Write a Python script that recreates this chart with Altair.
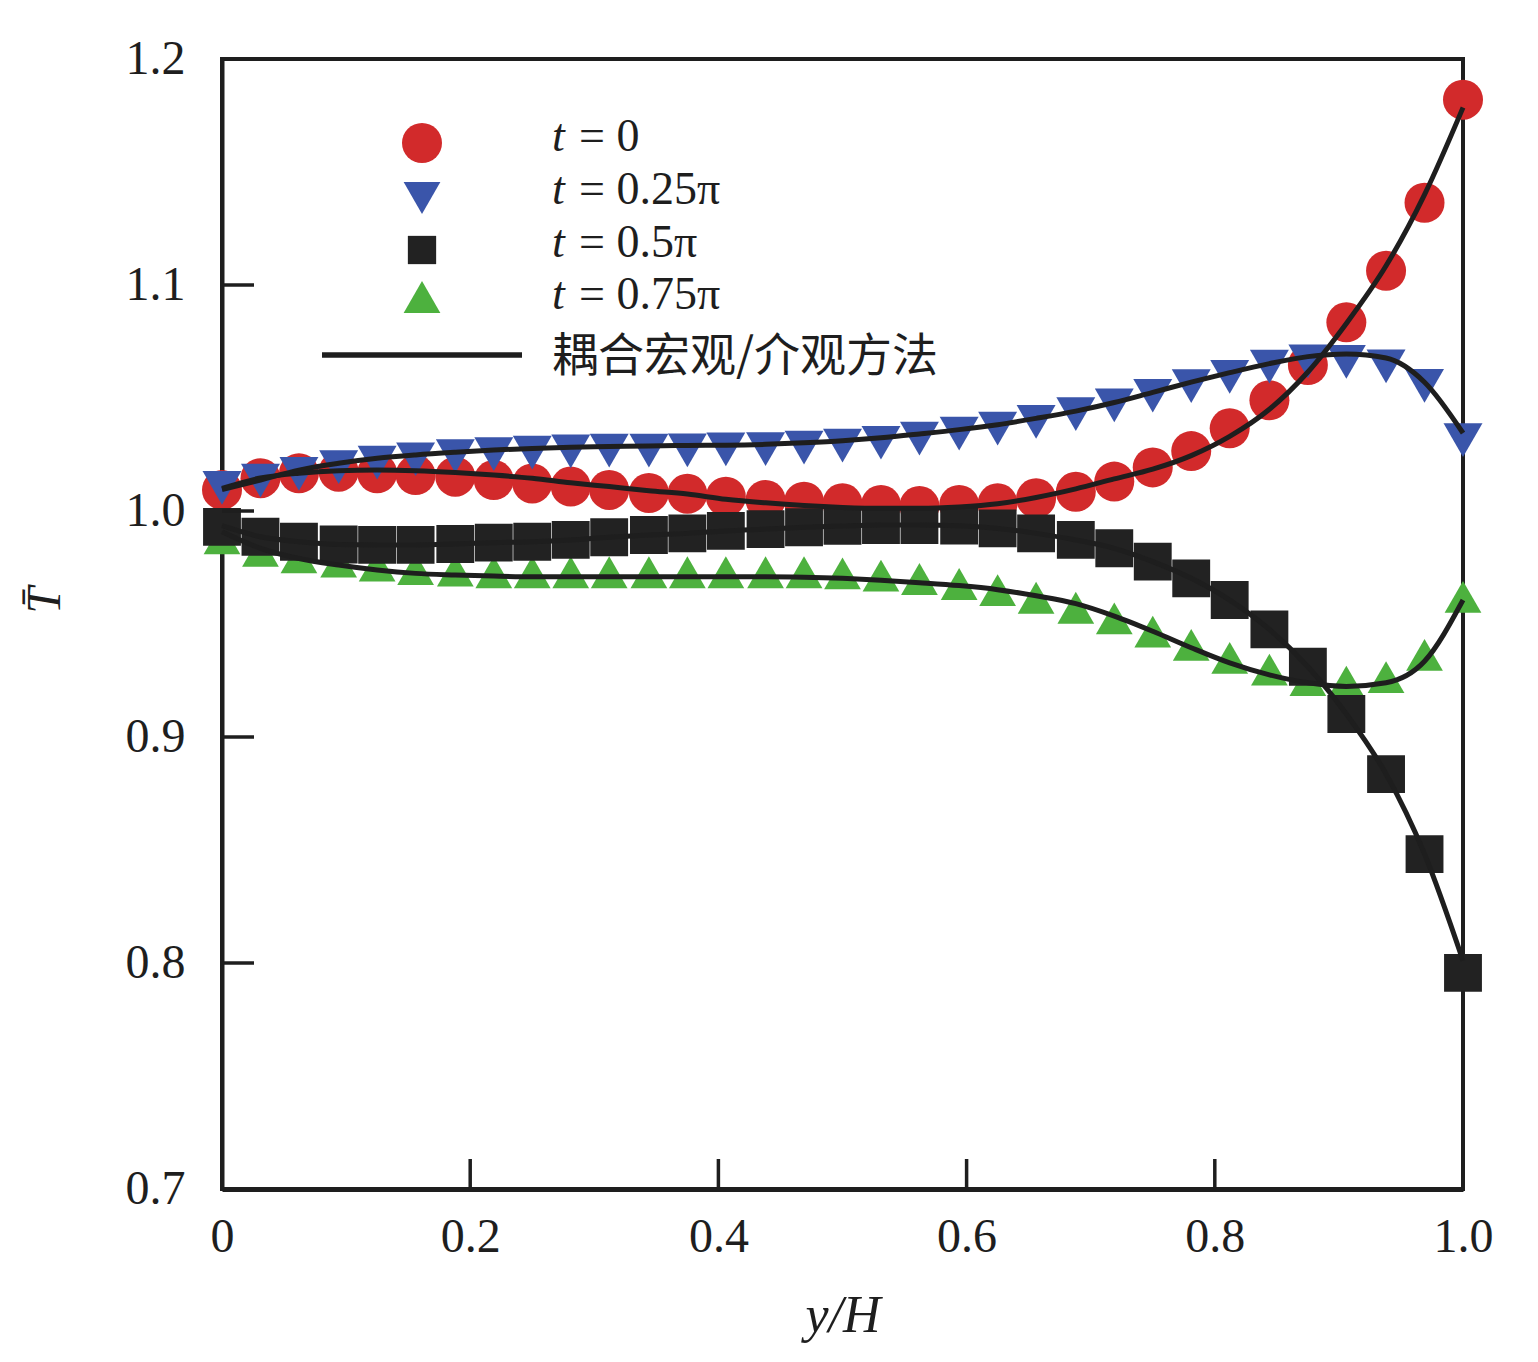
import altair as alt
import pandas as pd

# ---------------- data ----------------
x_vals = [0, 0.031, 0.062, 0.094, 0.125, 0.156, 0.188, 0.219, 0.25, 0.281, 0.312,
          0.344, 0.375, 0.406, 0.438, 0.469, 0.5, 0.531, 0.562, 0.594, 0.625, 0.656,
          0.688, 0.719, 0.75, 0.781, 0.812, 0.844, 0.875, 0.906, 0.938, 0.969, 1.0]

series_names = ["t = 0", "t = 0.25π", "t = 0.5π", "t = 0.75π"]

# symbols (mesoscopic data)
pts_t0 = [1.0093, 1.0145, 1.0167, 1.0174, 1.0167, 1.0159, 1.0152, 1.0137, 1.0122, 1.0108,
          1.0093, 1.0080, 1.0076, 1.0063, 1.0049, 1.0041, 1.0034, 1.0027, 1.0022, 1.0027,
          1.0034, 1.0056, 1.0085, 1.0130, 1.0193, 1.0265, 1.0366, 1.0490, 1.0646, 1.0835,
          1.1063, 1.1364, 1.1820]
pts_t025 = [1.0102, 1.0134, 1.0164, 1.0194, 1.0214, 1.0229, 1.0243, 1.0252, 1.0258, 1.0264,
            1.0267, 1.0267, 1.0268, 1.0273, 1.0274, 1.0280, 1.0289, 1.0302, 1.0320, 1.0342,
            1.0364, 1.0394, 1.0429, 1.0467, 1.0510, 1.0553, 1.0593, 1.0639, 1.0662, 1.0660,
            1.0640, 1.0554, 1.0314]
pts_t05 = [0.9930, 0.9886, 0.9864, 0.9852, 0.9850, 0.9850, 0.9854, 0.9860, 0.9864, 0.9872,
           0.9884, 0.9894, 0.9901, 0.9912, 0.9920, 0.9928, 0.9934, 0.9938, 0.9938, 0.9935,
           0.9923, 0.9901, 0.9872, 0.9835, 0.9776, 0.9702, 0.9606, 0.9476, 0.9311, 0.9102,
           0.8836, 0.8482, 0.7956]
pts_t075 = [0.9879, 0.9824, 0.9795, 0.9776, 0.9758, 0.9743, 0.9736, 0.9729, 0.9729, 0.9729,
            0.9729, 0.9729, 0.9729, 0.9729, 0.9729, 0.9729, 0.9724, 0.9714, 0.9699, 0.9677,
            0.9650, 0.9616, 0.9572, 0.9525, 0.9466, 0.9408, 0.9350, 0.9298, 0.9252, 0.9245,
            0.9265, 0.9363, 0.9620]

# curves (coupled macro/meso method)
line_t0 = [1.0100, 1.0146, 1.0167, 1.0178, 1.0181, 1.0178, 1.0170, 1.0159, 1.0145, 1.0125,
           1.0108, 1.0090, 1.0075, 1.0052, 1.0036, 1.0024, 1.0016, 1.0012, 1.0012, 1.0018,
           1.0032, 1.0060, 1.0098, 1.0142, 1.0185, 1.0245, 1.0330, 1.0450, 1.0615, 1.0830,
           1.1085, 1.1400, 1.1785]
line_t025 = [1.0095, 1.0137, 1.0181, 1.0211, 1.0233, 1.0248, 1.0260, 1.0270, 1.0277, 1.0282,
             1.0285, 1.0288, 1.0290, 1.0291, 1.0295, 1.0302, 1.0311, 1.0324, 1.0341, 1.0360,
             1.0382, 1.0410, 1.0442, 1.0480, 1.0525, 1.0570, 1.0612, 1.0652, 1.0683, 1.0695,
             1.0677, 1.0570, 1.0345]
line_t05 = [0.9935, 0.9886, 0.9864, 0.9852, 0.9850, 0.9850, 0.9854, 0.9860, 0.9864, 0.9872,
            0.9884, 0.9894, 0.9901, 0.9912, 0.9920, 0.9928, 0.9934, 0.9938, 0.9938, 0.9935,
            0.9923, 0.9901, 0.9872, 0.9835, 0.9776, 0.9702, 0.9606, 0.9476, 0.9311, 0.9102,
            0.8836, 0.8482, 0.8010]
line_t075 = [0.9908, 0.9835, 0.9790, 0.9761, 0.9739, 0.9724, 0.9717, 0.9712, 0.9709, 0.9709,
             0.9709, 0.9709, 0.9709, 0.9709, 0.9709, 0.9707, 0.9702, 0.9694, 0.9683, 0.9670,
             0.9652, 0.9625, 0.9590, 0.9535, 0.9468, 0.9395, 0.9328, 0.9275, 0.9240, 0.9224,
             0.9240, 0.9335, 0.9606]

x_ticks = [0.2, 0.4, 0.6, 0.8]
y_ticks = [0.8, 0.9, 1.0, 1.1]
x_axis_values = [0, 0.2, 0.4, 0.6, 0.8, 1.0]
y_axis_values = [0.7, 0.8, 0.9, 1.0, 1.1, 1.2]

legend_values = ["= 0", "= 0.25π", "= 0.5π", "= 0.75π"]
line_label = "耦合宏观/介观方法"

# ---------------- tables ----------------
pts_lists = [pts_t0, pts_t025, pts_t05, pts_t075]
line_lists = [line_t0, line_t025, line_t05, line_t075]

pts_df = pd.DataFrame([
    {"series": s, "x": xv, "T": tv, "order": k}
    for k, (s, vals) in enumerate(zip(series_names, pts_lists))
    for xv, tv in zip(x_vals, vals)
])
# draw order: red, blue, green, black
draw_rank = {0: 0, 1: 1, 3: 2, 2: 3}
pts_df["rank"] = pts_df["order"].map(draw_rank)
pts_df = pts_df.sort_values(["rank", "x"]).reset_index(drop=True)

line_df = pd.DataFrame([
    {"series": s, "x": xv, "T": tv}
    for s, vals in zip(series_names, line_lists)
    for xv, tv in zip(x_vals, vals)
])

W, H = 1241, 1130
SERIF = "Liberation Serif"
INK = "#1e1e1e"
colors = ["#d22a2b", "#3a55aa", "#222222", "#4db13e"]
shapes = ["circle", "triangle-down", "square", "triangle-up"]
sizes = [1600, 1350, 800, 1350]

xscale = alt.Scale(domain=[0, 1], nice=False, zero=False)
yscale = alt.Scale(domain=[0.7, 1.2], nice=False, zero=False)

xaxis = alt.Axis(values=x_axis_values, title="y/H", grid=False, tickSize=0,
                 labelPadding=48, labelBaseline="middle",
                 labelExpr="datum.value == 0 ? '0' : format(datum.value, '.1f')",
                 labelFont=SERIF, labelFontSize=48, labelColor=INK,
                 titleFont=SERIF, titleFontStyle="italic", titleFontWeight="normal",
                 titleFontSize=52, titleColor=INK, titleY=126, titleBaseline="middle",
                 domainColor=INK, domainWidth=5, labelFlush=False)
yaxis = alt.Axis(values=y_axis_values, title="T\u0304", grid=False, tickSize=0,
                 labelPadding=37, format=".1f",
                 labelFont=SERIF, labelFontSize=48, labelColor=INK,
                 titleFont=SERIF, titleFontStyle="italic", titleFontWeight="normal",
                 titleFontSize=48, titleColor=INK, titleX=-177, titleY=541,
                 titleAngle=-90, titleAlign="center", titleBaseline="middle",
                 domainColor=INK, domainWidth=4, labelFlush=False)

points = alt.Chart(pts_df).mark_point(filled=True, opacity=1, strokeWidth=0).encode(
    x=alt.X("x:Q", scale=xscale, axis=xaxis),
    y=alt.Y("T:Q", scale=yscale, axis=yaxis),
    shape=alt.Shape("series:N", scale=alt.Scale(domain=series_names, range=shapes), legend=None),
    color=alt.Color("series:N", scale=alt.Scale(domain=series_names, range=colors), legend=None),
    size=alt.Size("series:N", scale=alt.Scale(domain=series_names, range=sizes), legend=None),
    order=alt.Order("rank:Q"),
)

lines = alt.Chart(line_df).mark_line(color=INK, strokeWidth=5, interpolate="monotone").encode(
    x=alt.X("x:Q", scale=xscale),
    y=alt.Y("T:Q", scale=yscale),
    detail="series:N",
)

xt = alt.Chart(pd.DataFrame({"v": x_ticks})).mark_rule(color=INK, strokeWidth=3.5).encode(
    x=alt.X("v:Q", scale=xscale), y=alt.value(H), y2=alt.value(H - 30))
yt = alt.Chart(pd.DataFrame({"v": y_ticks})).mark_rule(color=INK, strokeWidth=3.5).encode(
    y=alt.Y("v:Q", scale=yscale), x=alt.value(0), x2=alt.value(32))

# ---------------- manual legend ----------------
one = pd.DataFrame({"a": [0]})
leg_marker_x = 200
leg_marker_y = [84, 139, 191, 238]
leg_text_y = [78, 131, 184, 236]
legend_layers = []
for k in range(4):
    legend_layers.append(
        alt.Chart(one).mark_point(shape=shapes[k], filled=True, opacity=1, strokeWidth=0,
                                  size=sizes[k], color=colors[k]).encode(
            x=alt.value(leg_marker_x), y=alt.value(leg_marker_y[k])))
    legend_layers.append(
        alt.Chart(one).mark_text(text="t", font=SERIF, fontStyle="italic", fontSize=46,
                                 color=INK, align="left", baseline="middle").encode(
            x=alt.value(330), y=alt.value(leg_text_y[k])))
    legend_layers.append(
        alt.Chart(one).mark_text(text=legend_values[k], font=SERIF, fontSize=46,
                                 color=INK, align="left", baseline="middle").encode(
            x=alt.value(357), y=alt.value(leg_text_y[k])))
legend_layers.append(
    alt.Chart(one).mark_rule(color=INK, strokeWidth=5.5).encode(
        x=alt.value(100), x2=alt.value(300), y=alt.value(296)))
legend_layers.append(
    alt.Chart(one).mark_text(text=line_label, font="Noto Sans CJK SC", fontSize=46,
                             color=INK, align="left", baseline="middle").encode(
        x=alt.value(330), y=alt.value(298)))

chart = alt.layer(points, lines, xt, yt, *legend_layers).properties(
    width=W, height=H,
    background="white",
    autosize=alt.AutoSizeParams(type="none"),
    padding={"left": 214, "top": 51, "right": 60, "bottom": 160},
).configure_view(stroke=INK, strokeWidth=4)

chart.save("out.html", embed_options={"renderer": "svg", "actions": False})
